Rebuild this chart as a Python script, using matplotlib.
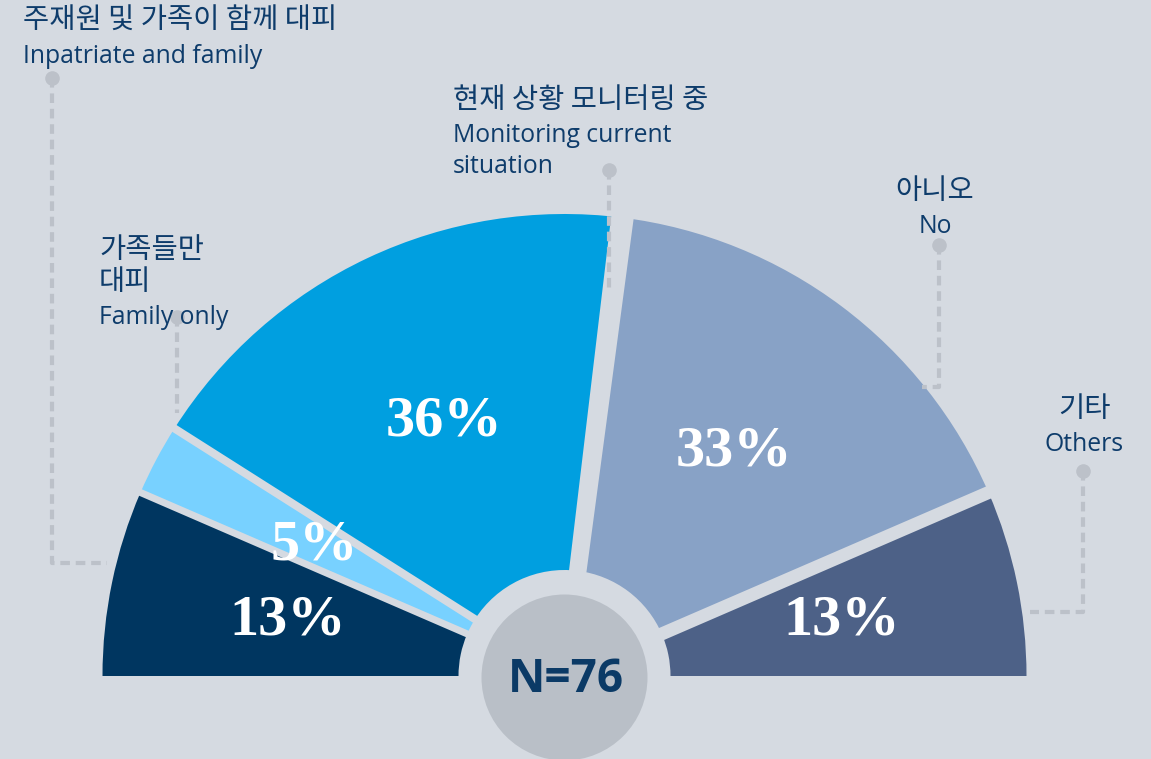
import matplotlib
matplotlib.use('Agg')
import matplotlib.pyplot as plt
from matplotlib.patches import Wedge, Circle, Polygon
import numpy as np

# ---------------- data ----------------
labels_ko = ['주재원 및 가족이 함께 대피', '가족들만\n대피', '현재 상황 모니터링 중', '아니오', '기타']
labels_en = ['Inpatriate and family', 'Family only', 'Monitoring current\nsituation', 'No', 'Others']
shares = [13, 5, 36, 33, 13]
value_labels = ['13%', '5%', '36%', '33%', '13%']
sample_text = 'N=76'

# ---------------- style ----------------
colors = ['#003660', '#78d1ff', '#009fe0', '#88a2c6', '#4d6187']
BG = '#d5dae1'
TXT = '#0e3c6b'
LINE = '#bcc1c9'
CIRC = '#b9bfc7'
LABEL_FONT = ['Open Sans', 'Noto Sans CJK KR', 'DejaVu Sans']
KO_FONT = ['Noto Sans CJK KR', 'DejaVu Sans']

W, H = 1151, 759
fig = plt.figure(figsize=(W / 100, H / 100), dpi=100)
fig.patch.set_facecolor(BG)
ax = fig.add_axes([0, 0, 1, 1])
ax.set_xlim(0, W)
ax.set_ylim(0, H)
ax.axis('off')
ax.set_facecolor(BG)


def P(px, py):
    return px, H - py


cx, cy = P(564.5, 676)
R_OUT, R_IN = 462, 106

total = float(sum(shares))
cum = np.concatenate([[0], np.cumsum(shares)])
angles = 180 - cum / total * 180  # boundaries, from left (180) to right (0)

for i, c in enumerate(colors):
    a1, a2 = angles[i + 1], angles[i]
    ax.add_patch(Wedge((cx, cy), R_OUT, a1, a2, width=R_OUT - R_IN,
                       facecolor=c, edgecolor='none', zorder=2))

# gaps between the segments (widths in px at inner / outer radius)
gap_w = [(7, 7), (8, 8), (16, 23), (13, 13)]
for k, (w0, w1) in enumerate(gap_w):
    th = np.deg2rad(angles[k + 1])
    u = np.array([np.cos(th), np.sin(th)])
    n = np.array([-np.sin(th), np.cos(th)])
    c0 = np.array([cx, cy])
    r1 = R_OUT + 30
    pts = [c0 + n * w0 / 2, c0 + u * r1 + n * w1 / 2,
           c0 + u * r1 - n * w1 / 2, c0 - n * w0 / 2]
    ax.add_patch(Polygon(pts, closed=True, facecolor=BG, edgecolor='none', zorder=3))

# central circle
ax.add_patch(Circle(P(564.5, 677.5), 83, facecolor=CIRC, edgecolor='none', zorder=4))
ax.text(*P(566, 679), sample_text, ha='center', va='center', fontsize=33,
        fontweight='bold', color='#0b3a66', family=['Open Sans', 'DejaVu Sans'], zorder=5)

# percent labels
R_LAB = 283
for i, lab in enumerate(value_labels):
    mid = np.deg2rad((angles[i] + angles[i + 1]) / 2)
    ax.text(cx + R_LAB * np.cos(mid), cy + R_LAB * np.sin(mid) - 2, lab,
            ha='center', va='center', fontsize=42, fontweight='bold',
            color='white', family=['Liberation Serif', 'DejaVu Serif'], zorder=6)

# ---------------- category labels & connectors ----------------
layout = [
    dict(x=23, ha='left', ko_y=[20], en_y=[63],
         path=[(52, 78), (52, 563), (107, 563)]),
    dict(x=99, ha='left', ko_y=[250, 282], en_y=[324],
         path=[(177, 317), (177, 413)]),
    dict(x=453, ha='left', ko_y=[100], en_y=[142, 173],
         path=[(609, 170), (609, 292)]),
    dict(x=935, ha='center', ko_y=[191], en_y=[233],
         path=[(939, 245), (939, 387), (922, 387)]),
    dict(x=1084, ha='center', ko_y=[409], en_y=[451],
         path=[(1083, 471), (1083, 612), (1030, 612)]),
]

for i, lay in enumerate(layout):
    ko_lines = labels_ko[i].split('\n')
    en_lines = labels_en[i].split('\n')
    for line, y in zip(ko_lines, lay['ko_y']):
        ax.text(*P(lay['x'], y), line, ha=lay['ha'], va='center', fontsize=20.5,
                color=TXT, family=KO_FONT, zorder=8)
    for line, y in zip(en_lines, lay['en_y']):
        ax.text(*P(lay['x'], y), line, ha=lay['ha'], va='baseline', fontsize=17.8,
                color=TXT, family=LABEL_FONT, zorder=8)
    xs = [P(*p)[0] for p in lay['path']]
    ys = [P(*p)[1] for p in lay['path']]
    ax.plot(xs, ys, color=LINE, lw=3, dashes=(2.3, 1.4), solid_capstyle='butt',
            zorder=5)
    ax.plot(xs[0], ys[0], 'o', color=LINE, markersize=10.5, markeredgewidth=0, zorder=7)

fig.savefig('out.png', dpi=100, facecolor=BG)
